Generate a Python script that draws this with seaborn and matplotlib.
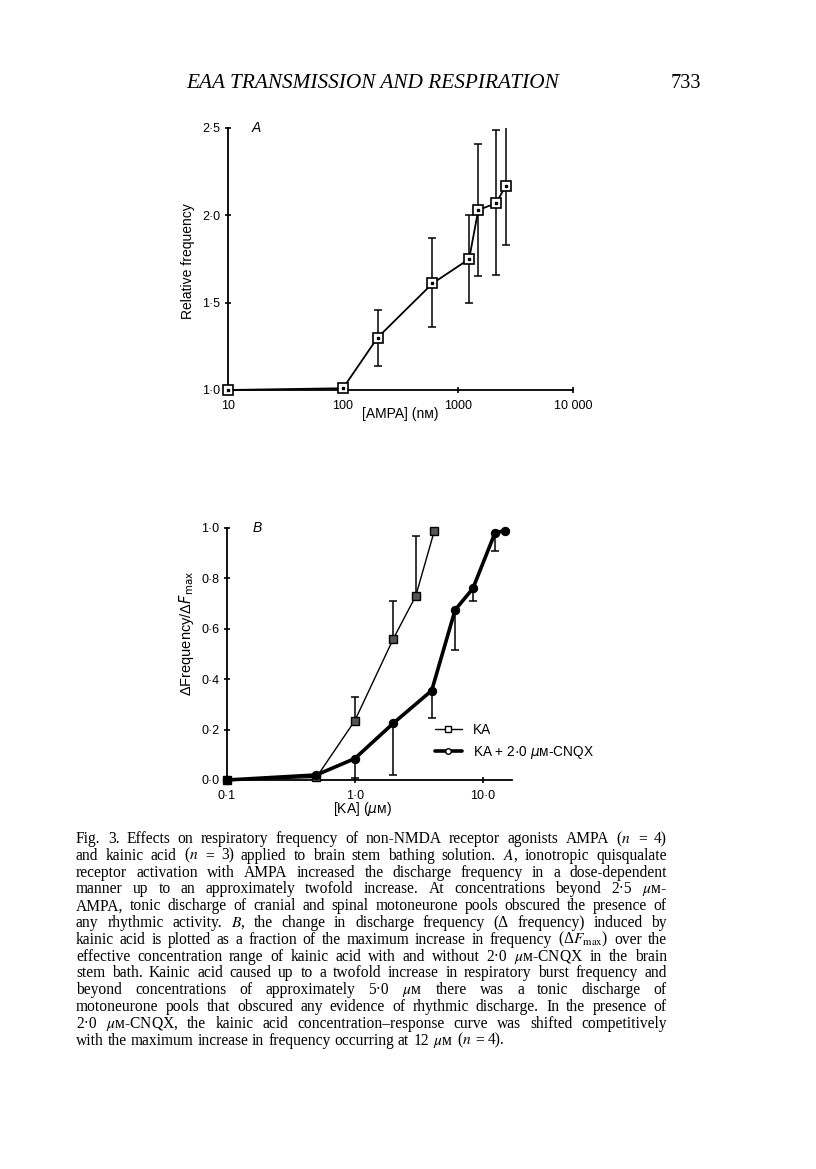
import matplotlib
matplotlib.use("Agg")
import matplotlib.pyplot as plt
from matplotlib.lines import Line2D
from matplotlib.ticker import FixedLocator, FixedFormatter, NullLocator
import seaborn as sns
import numpy as np

# panel A: AMPA dose-response
ampa_nm = [10, 100, 200, 600, 1250, 1500, 2150, 2600]
ampa_freq = [1.00, 1.01, 1.30, 1.61, 1.75, 2.03, 2.07, 2.17]
ampa_upper = [1.00, 1.01, 1.46, 1.87, 2.00, 2.41, 2.49, 2.52]
ampa_lower = [1.00, 1.01, 1.14, 1.36, 1.50, 1.65, 1.66, 1.83]

# panel B: kainic acid with / without CNQX
ka_um = [0.1, 0.5, 1.0, 2.0, 3.0, 4.2]
ka_resp = [0.0, 0.01, 0.235, 0.56, 0.73, 0.99]
ka_upper = [0.0, 0.01, 0.33, 0.71, 0.97, 0.99]

cnqx_um = [0.1, 0.5, 1.0, 2.0, 4.0, 6.1, 8.4, 12.5, 15.0]
cnqx_resp = [0.0, 0.02, 0.085, 0.225, 0.355, 0.675, 0.76, 0.98, 0.99]
cnqx_lower = [0.0, 0.02, 0.007, 0.02, 0.245, 0.515, 0.71, 0.91, 0.99]

a_xticks = [10, 100, 1000, 10000]
a_xticklabels = ["10", "100", "1000", "10 000"]
a_yticks = [1.0, 1.5, 2.0, 2.5]
b_xticks = [0.1, 1.0, 10.0]
b_yticks = [0.0, 0.2, 0.4, 0.6, 0.8, 1.0]

header = "EAA TRANSMISSION AND RESPIRATION"
page_no = "733"
caption = [
    "Fig. 3. Effects on respiratory frequency of non-NMDA receptor agonists AMPA ($n$ = 4)",
    "and kainic acid ($n$ = 3) applied to brain stem bathing solution. $A$, ionotropic quisqualate",
    "receptor activation with AMPA increased the discharge frequency in a dose-dependent",
    "manner up to an approximately twofold increase. At concentrations beyond 2·5 $\\mu$ᴍ-",
    "AMPA, tonic discharge of cranial and spinal motoneurone pools obscured the presence of",
    "any rhythmic activity. $B$, the change in discharge frequency (Δ frequency) induced by",
    "kainic acid is plotted as a fraction of the maximum increase in frequency (Δ$F_{\\mathrm{max}}$) over the",
    "effective concentration range of kainic acid with and without 2·0 $\\mu$ᴍ-CNQX in the brain",
    "stem bath. Kainic acid caused up to a twofold increase in respiratory burst frequency and",
    "beyond concentrations of approximately 5·0 $\\mu$ᴍ there was a tonic discharge of",
    "motoneurone pools that obscured any evidence of rhythmic discharge. In the presence of",
    "2·0 $\\mu$ᴍ-CNQX, the kainic acid concentration–response curve was shifted competitively",
    "with the maximum increase in frequency occurring at 12 $\\mu$ᴍ ($n$ = 4).",
]

sns.set_style("ticks")
plt.rcParams["font.family"] = ["Liberation Sans", "DejaVu Sans"]
plt.rcParams["mathtext.fontset"] = "dejavusans"
for k in ["text.color", "axes.labelcolor", "xtick.color", "ytick.color"]:
    plt.rcParams[k] = "black"

W, H = 816, 1169
fig = plt.figure(figsize=(W / 100, H / 100), dpi=100)
fig.patch.set_facecolor("white")


def px_axes(left, top, right, bottom):
    return fig.add_axes([left / W, 1 - bottom / H, (right - left) / W, (bottom - top) / H])


def style_axes(ax):
    sns.despine(ax=ax)
    for s in ["left", "bottom"]:
        ax.spines[s].set_linewidth(1.3)
        ax.spines[s].set_color("black")
    ax.tick_params(direction="inout", length=5, width=1.2, labelsize=9,
                   colors="black")
    ax.tick_params(axis="x", pad=4.5)
    ax.tick_params(axis="y", pad=3)
    ax.set_facecolor("white")
    ax.grid(False)


def dot_fmt(vals):
    return [f"{v:.1f}".replace(".", "·") for v in vals]


# ---------- panel A ----------
axA = px_axes(228, 128, 573, 390)
x = np.array(ampa_nm, float)
y = np.array(ampa_freq)
up = np.array(ampa_upper)
lo = np.array(ampa_lower)
m = (up > y) | (lo < y)
axA.errorbar(x[m], y[m], yerr=[y[m] - lo[m], up[m] - y[m]], fmt="none",
             ecolor="black", elinewidth=1.1, capsize=3, capthick=1.1, zorder=2)
sns.lineplot(x=ampa_nm, y=ampa_freq, ax=axA, color="black", lw=1.3,
             marker="s", markersize=7, markerfacecolor="white",
             markeredgecolor="black", markeredgewidth=1.2, clip_on=False, zorder=3)
axA.plot(ampa_nm, ampa_freq, "s", ms=2, color="black", clip_on=False, zorder=4)
axA.set_xscale("log")
axA.set_xlim(10, 10000)
axA.set_ylim(1.0, 2.5)
axA.xaxis.set_major_locator(FixedLocator(a_xticks))
axA.xaxis.set_major_formatter(FixedFormatter(a_xticklabels))
axA.xaxis.set_minor_locator(NullLocator())
axA.yaxis.set_major_locator(FixedLocator(a_yticks))
axA.yaxis.set_major_formatter(FixedFormatter(dot_fmt(a_yticks)))
axA.set_xlabel("")
axA.set_ylabel("")
style_axes(axA)
axA.text(0.07, 1.0, "A", transform=axA.transAxes, fontsize=10, style="italic",
         ha="left", va="center")
fig.text(188 / W, 1 - 261 / H, "Relative frequency", rotation=90, fontsize=10,
         ha="center", va="center")
fig.text(400 / W, 1 - 414 / H, "[AMPA] (nᴍ)", fontsize=10, ha="center", va="center")

# ---------- panel B ----------
axB = px_axes(227, 528, 512, 780)
kx = np.array(ka_um)
ky = np.array(ka_resp)
ku = np.array(ka_upper)
mk = ku > ky
axB.errorbar(kx[mk], ky[mk], yerr=[np.zeros(mk.sum()), ku[mk] - ky[mk]], fmt="none",
             ecolor="black", elinewidth=1.1, capsize=3, capthick=1.1, zorder=2)
cx = np.array(cnqx_um)
cy = np.array(cnqx_resp)
cl = np.array(cnqx_lower)
mc = cl < cy
axB.errorbar(cx[mc], cy[mc], yerr=[cy[mc] - cl[mc], np.zeros(mc.sum())], fmt="none",
             ecolor="black", elinewidth=1.1, capsize=3, capthick=1.1, zorder=2)
sns.lineplot(x=ka_um, y=ka_resp, ax=axB, color="black", lw=1.0,
             marker="s", markersize=6, markerfacecolor="#555555",
             markeredgecolor="black", markeredgewidth=1.0, clip_on=False, zorder=3)
sns.lineplot(x=cnqx_um, y=cnqx_resp, ax=axB, color="black", lw=2.6,
             marker="o", markersize=6, markerfacecolor="black",
             markeredgecolor="black", clip_on=False, zorder=4)
axB.set_xscale("log")
axB.set_xlim(0.1, 17)
axB.set_ylim(0.0, 1.0)
axB.xaxis.set_major_locator(FixedLocator(b_xticks))
axB.xaxis.set_major_formatter(FixedFormatter(dot_fmt(b_xticks)))
axB.xaxis.set_minor_locator(NullLocator())
axB.yaxis.set_major_locator(FixedLocator(b_yticks))
axB.yaxis.set_major_formatter(FixedFormatter(dot_fmt(b_yticks)))
axB.set_xlabel("")
axB.set_ylabel("")
style_axes(axB)
axB.text(0.09, 1.0, "B", transform=axB.transAxes, fontsize=10, style="italic",
         ha="left", va="center")
fig.text(187 / W, 1 - 633 / H, "ΔFrequency/Δ$F_{\\mathrm{max}}$", rotation=90,
         fontsize=10.5, ha="center", va="center")
fig.text(362 / W, 1 - 809 / H, "[KA] ($\\mu$ᴍ)", fontsize=10, ha="center", va="center")

handles = [
    Line2D([], [], color="black", lw=1.0, marker="s", ms=4, mfc="white", mec="black"),
    Line2D([], [], color="black", lw=2.6, marker="o", ms=4, mfc="white", mec="black"),
]
axB.legend(handles, ["KA", "KA + 2·0 $\\mu$ᴍ-CNQX"], loc="center left",
           bbox_to_anchor=(428 / W, 1 - 742 / H), bbox_transform=fig.transFigure,
           frameon=False, fontsize=9.8, handlelength=2.0, handletextpad=0.8,
           labelspacing=0.55, borderpad=0)

# ---------- page text ----------
renderer = fig.canvas.get_renderer()
serif = ["Liberation Serif", "DejaVu Serif"]


def width_of(s, size, **kw):
    t = fig.text(0, 0, s, fontsize=size, family=serif, **kw)
    w = t.get_window_extent(renderer).width
    t.remove()
    return w


# header, scaled to span the measured width
hs = 12 * (558 - 186) / width_of(header, 12, style="italic")
fig.text(186 / W, 1 - 88 / H, header, fontsize=hs, family=serif, style="italic",
         ha="left", va="baseline")
fig.text(701 / W, 1 - 88 / H, page_no, fontsize=hs * 0.95, family=serif,
         ha="right", va="baseline")

# caption, justified between the margins
x0, x1 = 76, 667
base = 10.0
longest = max(width_of(l, base, math_fontfamily="stix") for l in caption)
cs = base * (x1 - x0) * 0.95 / longest
space = width_of("x x", cs) - width_of("xx", cs)
for i, line in enumerate(caption):
    yb = 843 + i * 16.8
    words = line.split(" ")
    texts = [fig.text(0, 1 - yb / H, w, fontsize=cs, family=serif,
                      math_fontfamily="stix", ha="left", va="baseline")
             for w in words]
    widths = [t.get_window_extent(renderer).width for t in texts]
    if i < len(caption) - 1 and len(words) > 1:
        gap = (x1 - x0 - sum(widths)) / (len(words) - 1)
    else:
        gap = space
    xp = x0
    for t, w in zip(texts, widths):
        t.set_x(xp / W)
        xp += w + gap

fig.savefig("out.png", dpi=100, facecolor="white")
